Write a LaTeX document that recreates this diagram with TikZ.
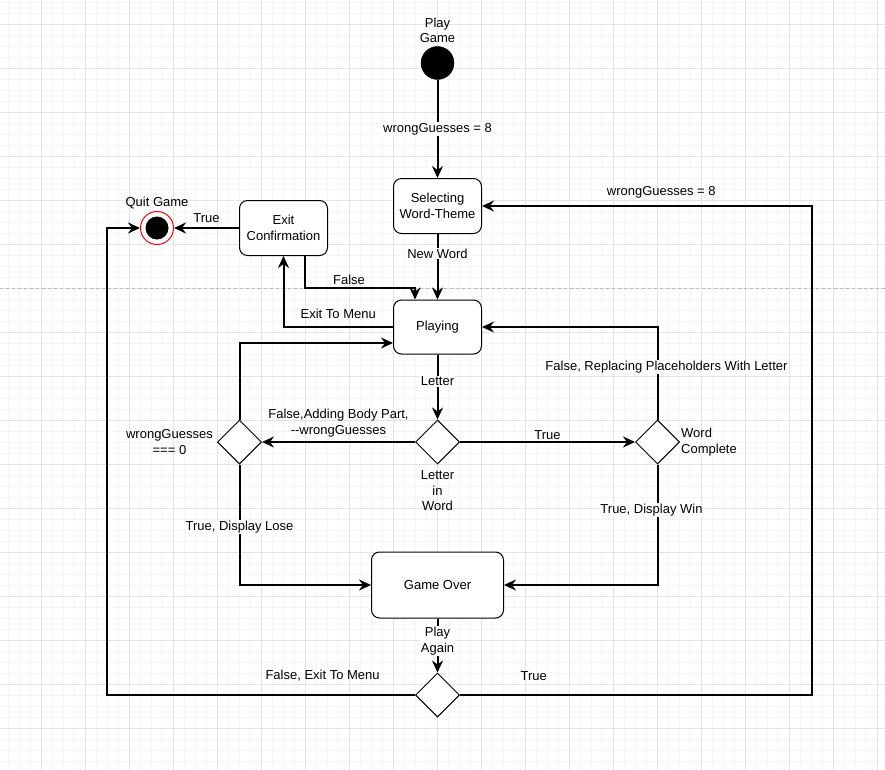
\documentclass[tikz,border=0pt]{standalone}
\usepackage{fontspec}
\setmainfont{Liberation Sans}
\usetikzlibrary{arrows.meta,positioning,shapes.geometric}
\newcommand{\diafont}{\fontsize{13}{15.5}\selectfont}
\definecolor{gridminor}{HTML}{F6F6F6}
\definecolor{gridmajor}{HTML}{E3E3E3}
\tikzset{
  state/.style={rectangle, rounded corners=8pt, draw, line width=1pt, align=center, font=\diafont, minimum width=88pt, minimum height=55pt, fill=white},
  choice/.style={diamond, draw, line width=1pt, minimum width=44pt, minimum height=44pt, inner sep=0pt, fill=white},
  startdot/.style={circle, fill=black, draw, minimum size=33pt, inner sep=0pt},
  enddot/.style={circle, draw=red, line width=1pt, fill=white, minimum size=33pt, inner sep=0pt,
    path picture={\fill[black] (path picture bounding box.center) circle (11.5pt);}},
  arr/.style={-{Stealth[length=12pt, width=11pt, inset=4pt]}, line width=2pt},
  lbl/.style={font=\diafont, align=center, fill=white, inner sep=1pt},
  txt/.style={font=\diafont, align=center, inner sep=1pt}
}

\begin{document}
\begin{tikzpicture}[x=1pt, y=-1pt]
\useasboundingbox (0,0) rectangle (885,770);

% background grid and page break
\begin{scope}[shift={(8.3,2.3)}]
  \draw[gridminor, line width=0.6pt, step=11pt] (-11,-11) grid (890,780);
\end{scope}
\begin{scope}[shift={(41.3,24.3)}]
  \draw[gridmajor, line width=0.7pt, step=44pt] (-44,-44) grid (890,780);
\end{scope}
\draw[gray!55, dashed, line width=0.6pt] (0,288) -- (885,288);

\node[startdot] (start) at (437.5,63) {};
\node[txt, above=2pt of start] (startlbl) {Play\\Game};
\node[state] (sel) at (437.5,206) {Selecting\\Word-Theme};
\node[state, minimum height=54pt] (play) at (437.5,327) {Playing};
\node[state] (exitc) at (283.5,228) {Exit\\Confirmation};
\node[enddot] (quit) at (157,228) {};
\node[txt, above=1pt of quit] (quitlbl) {Quit Game};
\node[choice] (letter) at (437.5,442) {};
\node[txt, below=5pt of letter] (letterlbl) {Letter\\in\\Word};
\node[choice] (lose) at (239.5,442) {};
\node[txt, left=3pt of lose] (loselbl) {wrongGuesses\\=== 0};
\node[choice] (won) at (657.5,442) {};
\node[txt, right=0pt of won, align=left] (wonlbl) {Word\\Complete};
\node[state, minimum width=132pt, minimum height=66pt] (over) at (437.5,585) {Game Over};
\node[choice] (again) at (437.5,695) {};
\coordinate (fbend) at (415,288);
\coordinate (rt) at (811.5,695);
\coordinate (lt) at (107,695);

\draw[arr] (start) -- node[lbl]{wrongGuesses = 8} (sel);
\draw[arr] (sel) -- node[lbl, pos=0.3]{New Word} (play);
\draw[arr] (exitc) -- node[txt, above=3pt]{True} (quit);
\draw[arr] ([xshift=21.5pt]exitc.south) |- node[txt, above=1pt, pos=0.7]{False} (fbend) -- ([xshift=-22.5pt]play.north);
\draw[arr] (play.west) -| node[txt, above=6pt, pos=0.25]{Exit To Menu} (exitc.south);
\draw[arr] (play) -- node[lbl, pos=0.41]{Letter} (letter);
\draw[arr] (letter) -- node[txt, above=3pt]{False,Adding Body Part,\\-{}-wrongGuesses} (lose);
\draw[arr] (letter) -- node[txt, above=0pt]{True} (won);
\draw[arr] (won.north) |- node[lbl, pos=0.285, xshift=9pt]{False, Replacing Placeholders With Letter} (play.east);
\draw[arr] (lose.north) |- ([yshift=-16pt]play.west);
\draw[arr] (lose.south) |- node[lbl, pos=0.26]{True, Display Lose} (over.west);
\draw[arr] (won.south) |- node[lbl, pos=0.19, xshift=-6pt]{True, Display Win} (over.east);
\draw[arr] (over) -- node[lbl, pos=0.42]{Play\\Again} (again);
\draw[arr] (again.east) -- node[txt, above=12pt, pos=0.21]{True} (rt) |- node[txt, above=6pt, pos=0.728]{wrongGuesses = 8} (sel.east);
\draw[arr] (again.west) -- node[txt, above=12pt, pos=0.3]{False, Exit To Menu} (lt) |- (quit.west);
\end{tikzpicture}
\end{document}
